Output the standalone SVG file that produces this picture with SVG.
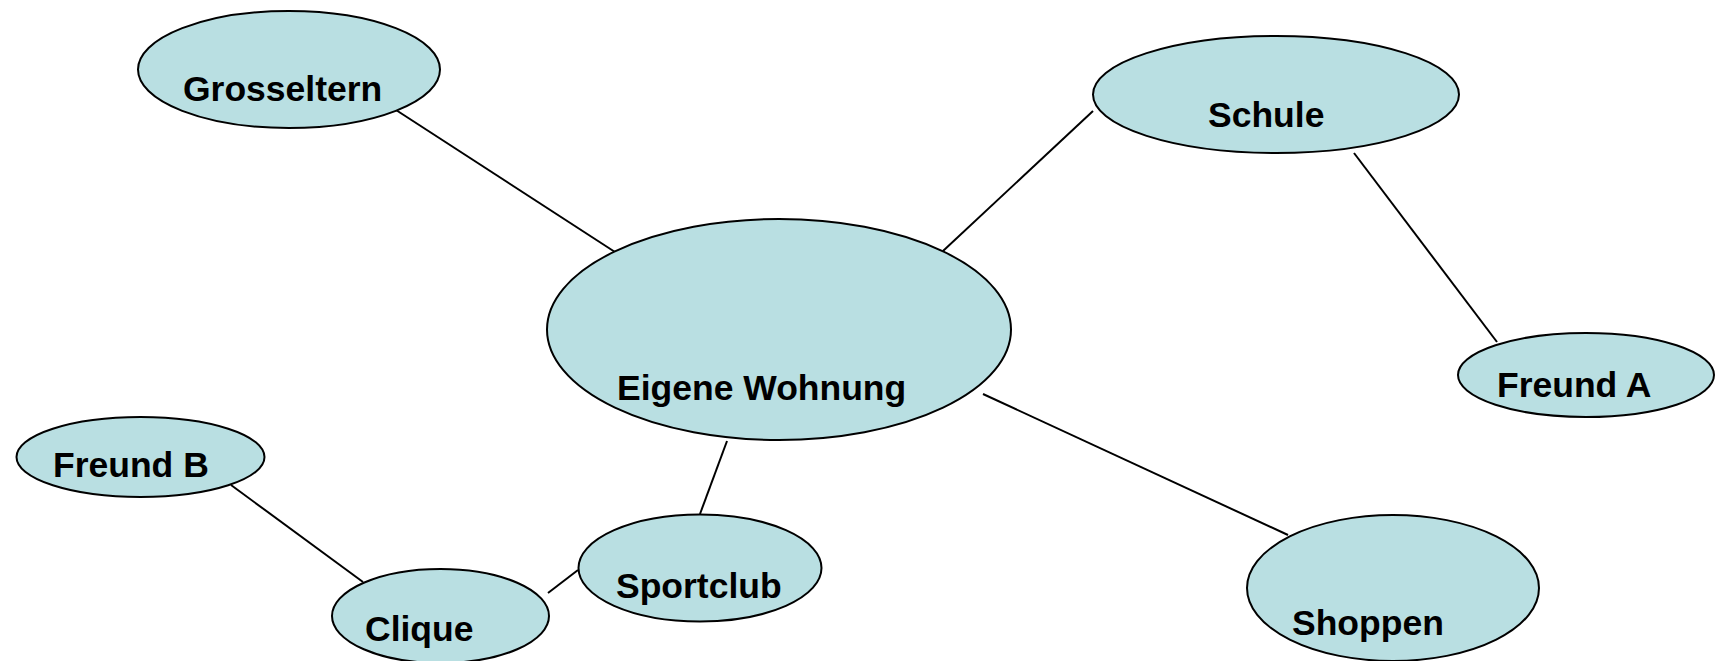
<svg xmlns="http://www.w3.org/2000/svg" width="1715" height="661" viewBox="0 0 1715 661">
<style>
.n ellipse{fill:#b9dfe2;stroke:#000;stroke-width:2}
.n text{font-family:"Liberation Sans",Arial,sans-serif;font-weight:bold;font-size:35.5px;fill:#000}
.c line{stroke:#000;stroke-width:2}
</style>
<rect width="1715" height="661" fill="#fff"/>
<g class="c" id="connectors">
<line x1="396" y1="110" x2="615" y2="252"/>
<line x1="1093" y1="111" x2="943" y2="251"/>
<line x1="1354" y1="153" x2="1497" y2="342"/>
<line x1="983" y1="394" x2="1288" y2="535"/>
<line x1="727" y1="441" x2="700" y2="514"/>
<line x1="578" y1="570" x2="548" y2="593"/>
<line x1="231" y1="485" x2="363" y2="582"/>
</g>
<g class="n" id="grosseltern"><ellipse cx="289" cy="69.5" rx="151" ry="58.5"/><text x="183" y="101">Grosseltern</text></g>
<g class="n" id="schule"><ellipse cx="1276" cy="94.5" rx="183" ry="58.5"/><text x="1208" y="127">Schule</text></g>
<g class="n" id="wohnung"><ellipse cx="779" cy="329.5" rx="232" ry="110.5"/><text x="617" y="400">Eigene Wohnung</text></g>
<g class="n" id="freundA"><ellipse cx="1586" cy="375" rx="128" ry="42"/><text x="1497" y="397">Freund A</text></g>
<g class="n" id="freundB"><ellipse cx="140.5" cy="457" rx="124" ry="40"/><text x="53" y="477">Freund B</text></g>
<g class="n" id="sportclub"><ellipse cx="700" cy="568" rx="121.5" ry="53.5"/><text x="616" y="598">Sportclub</text></g>
<g class="n" id="clique"><ellipse cx="440.5" cy="616" rx="108.5" ry="47"/><text x="365" y="641">Clique</text></g>
<g class="n" id="shoppen"><ellipse cx="1393" cy="588" rx="146" ry="73"/><text x="1292" y="635">Shoppen</text></g>
</svg>
